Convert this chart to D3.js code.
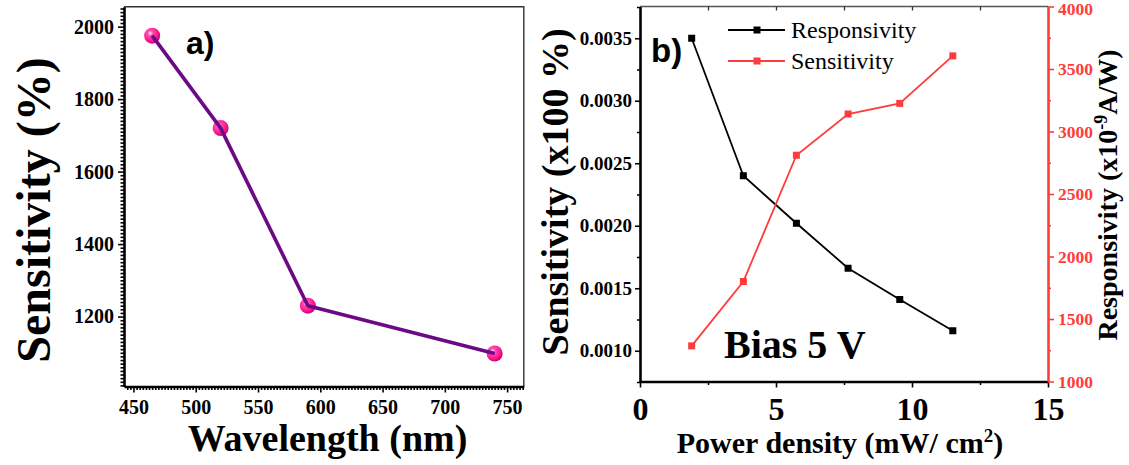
<!DOCTYPE html>
<html><head><meta charset="utf-8">
<script src="https://cdn.jsdelivr.net/npm/d3@7"></script>
<style>
body{margin:0;background:#fff;}
svg{display:block;}
</style>
</head><body>
<svg id="c" width="1129" height="465"></svg>
<script>
// ---- Data ----
const wavelength = [465, 520, 590, 740];
const sensitivityA = [1975, 1720, 1230, 1098];
const powerDensity = [1.9, 3.8, 5.75, 7.65, 9.55, 11.5];
const responsivityB = [0.0035, 0.0024, 0.00202, 0.00166, 0.00141, 0.00116];
const sensitivityB = [1285, 1800, 2810, 3140, 3225, 3605];
const aXTicks = [450, 500, 550, 600, 650, 700, 750];
const aYTicks = [1200, 1400, 1600, 1800, 2000];
const bXTicks = [0, 5, 10, 15];
const bXMinor = [2.5, 7.5, 12.5];
const bYLeftTicks = [0.0010, 0.0015, 0.0020, 0.0025, 0.0030, 0.0035];
const bYRightTicks = [1000, 1500, 2000, 2500, 3000, 3500, 4000];
const legendLabels = ["Responsivity", "Sensitivity"];

const SERIF = '"Liberation Serif", "Times New Roman", serif';
const SANS = '"Liberation Sans", Arial, sans-serif';
const svg = d3.select("#c");
svg.append("rect").attr("width",1129).attr("height",465).attr("fill","#fff");

const defs = svg.append("defs");
const g = defs.append("radialGradient").attr("id","ball").attr("cx","38%").attr("cy","35%").attr("r","65%");
g.append("stop").attr("offset","0%").attr("stop-color","#fff0f8");
g.append("stop").attr("offset","25%").attr("stop-color","#ff4fb4");
g.append("stop").attr("offset","70%").attr("stop-color","#ff1a8c");
g.append("stop").attr("offset","100%").attr("stop-color","#d0006e");

function txt(sel, fs, family, weight){
  return sel.style("font-family", family||SERIF).style("font-size", fs+"px").style("font-weight", weight||"bold");
}
function styleAxis(sel, fs, color){
  txt(sel.selectAll("text"), fs).attr("fill",color||"#000");
  sel.selectAll("line").attr("stroke",color||"#000").attr("stroke-width",1.6);
  sel.select(".domain").attr("stroke",color||"#000").attr("stroke-width",2.6);
}

// ================= Panel a =================
const aL=124, aR=523.8, aT=6.7, aB=386.5;
const xA = d3.scaleLinear().domain([442.4, 763.4]).range([aL, aR]);
const yA = d3.scaleLinear().domain([1007, 2055]).range([aB, aT]);

svg.append("path").attr("d",`M${aL},${aT}H${aR}V${aB}`).attr("fill","none").attr("stroke","#333").attr("stroke-width",1.4);

const aYMinor = d3.range(1010, 2055, 10).filter(v=>v%200!==0);
const aXMinor = d3.range(445, 763, 2.5).filter(v=>v%50!==0);
svg.append("g").attr("transform",`translate(${aL},0)`)
  .call(d3.axisLeft(yA).tickValues(aYMinor).tickSize(3.5).tickSizeOuter(0).tickFormat(""))
  .call(s=>{s.selectAll("line").attr("stroke","#000").attr("stroke-width",1.6); s.select(".domain").remove();});
svg.append("g").attr("transform",`translate(0,${aB})`)
  .call(d3.axisBottom(xA).tickValues(aXMinor).tickSize(3.5).tickSizeOuter(0).tickFormat(""))
  .call(s=>{s.selectAll("line").attr("stroke","#000").attr("stroke-width",1.6); s.select(".domain").remove();});

svg.append("g").attr("transform",`translate(${aL},0)`)
  .call(d3.axisLeft(yA).tickValues(aYTicks).tickSize(6).tickSizeOuter(0).tickPadding(4).tickFormat(d3.format("d")))
  .call(s=>styleAxis(s,20));
svg.append("g").attr("transform",`translate(0,${aB})`)
  .call(d3.axisBottom(xA).tickValues(aXTicks).tickSize(6).tickSizeOuter(0).tickPadding(7.5).tickFormat(d3.format("d")))
  .call(s=>styleAxis(s,20));

svg.append("g").selectAll("circle").data(wavelength).join("circle")
  .attr("cx",(d)=>xA(d)).attr("cy",(d,i)=>yA(sensitivityA[i])).attr("r",8).attr("fill","url(#ball)");
svg.append("path").datum(wavelength)
  .attr("d", d3.line().x(d=>xA(d)).y((d,i)=>yA(sensitivityA[i])))
  .attr("fill","none").attr("stroke","#6c0a86").attr("stroke-width",3.6).attr("stroke-linejoin","round");

txt(svg.append("text").attr("x",186).attr("y",54).text("a)"), 32, SANS);

txt(svg.append("text").attr("transform","translate(50,210) rotate(-90)").attr("text-anchor","middle").text("Sensitivity (%)"), 48);
txt(svg.append("text").attr("x",327.5).attr("y",451).attr("text-anchor","middle").text("Wavelength (nm)"), 38);

// ================= Panel b =================
const bL=640, bR=1048, bT=6.5, bB=381.5;
const xB = d3.scaleLinear().domain([0, 15]).range([bL, bR]);
const yL = d3.scaleLinear().domain([0.000754, 0.003754]).range([bB, bT]);
const yR = d3.scaleLinear().domain([1000, 4000]).range([bB, bT]);

svg.append("line").attr("x1",bL).attr("x2",bR).attr("y1",bT).attr("y2",bT).attr("stroke","#555").attr("stroke-width",1.6);
svg.append("g").attr("transform",`translate(0,${bT})`)
  .call(d3.axisTop(xB).tickValues(bXTicks.concat(bXMinor).filter(v=>v>0&&v<15)).tickSize(-4).tickSizeOuter(0).tickFormat(""))
  .call(s=>{s.selectAll("line").attr("stroke","#333").attr("stroke-width",1.3); s.select(".domain").remove();});

const bYLMinor = d3.range(0.00075, 0.00376, 0.00025).filter(v=>Math.abs((v/0.0005)-Math.round(v/0.0005))>0.01);
svg.append("g").attr("transform",`translate(${bL},0)`)
  .call(d3.axisLeft(yL).tickValues(bYLMinor).tickSize(3).tickSizeOuter(0).tickFormat(""))
  .call(s=>{s.selectAll("line").attr("stroke","#000").attr("stroke-width",1.5); s.select(".domain").remove();});
svg.append("g").attr("transform",`translate(0,${bB})`)
  .call(d3.axisBottom(xB).tickValues(bXMinor).tickSize(3.5).tickSizeOuter(0).tickFormat(""))
  .call(s=>{s.selectAll("line").attr("stroke","#000").attr("stroke-width",1.5); s.select(".domain").remove();});
const bYRMinor = [1250,1750,2250,2750,3250,3750];
svg.append("g").attr("transform",`translate(${bR},0)`)
  .call(d3.axisRight(yR).tickValues(bYRMinor).tickSize(3).tickSizeOuter(0).tickFormat(""))
  .call(s=>{s.selectAll("line").attr("stroke","#ff3c3c").attr("stroke-width",1.5); s.select(".domain").remove();});

svg.append("g").attr("transform",`translate(${bL},0)`)
  .call(d3.axisLeft(yL).tickValues(bYLeftTicks).tickSize(5).tickSizeOuter(0).tickPadding(3).tickFormat(d3.format(".4f")))
  .call(s=>styleAxis(s,19));
svg.append("g").attr("transform",`translate(0,${bB})`)
  .call(d3.axisBottom(xB).tickValues(bXTicks).tickSize(6).tickSizeOuter(0).tickPadding(10).tickFormat(d3.format("d")))
  .call(s=>styleAxis(s,32));
svg.append("g").attr("transform",`translate(${bR},0)`)
  .call(d3.axisRight(yR).tickValues(bYRightTicks).tickSize(6).tickSizeOuter(0).tickPadding(4).tickFormat(d3.format("d")))
  .call(s=>styleAxis(s,17.5,"#ff3c3c"))
  .call(s=>s.selectAll("text").filter(d=>d===4000).attr("dy","0.45em"));

svg.append("path").datum(powerDensity)
  .attr("d", d3.line().x(d=>xB(d)).y((d,i)=>yL(responsivityB[i])))
  .attr("fill","none").attr("stroke","#000").attr("stroke-width",1.8);
svg.append("g").selectAll("rect").data(powerDensity).join("rect")
  .attr("x",d=>xB(d)-3.5).attr("y",(d,i)=>yL(responsivityB[i])-3.5).attr("width",7).attr("height",7).attr("fill","#000");
svg.append("path").datum(powerDensity)
  .attr("d", d3.line().x(d=>xB(d)).y((d,i)=>yR(sensitivityB[i])))
  .attr("fill","none").attr("stroke","#ff3c3c").attr("stroke-width",1.8);
svg.append("g").selectAll("rect").data(powerDensity).join("rect")
  .attr("x",d=>xB(d)-3.5).attr("y",(d,i)=>yR(sensitivityB[i])-3.5).attr("width",7).attr("height",7).attr("fill","#ff3c3c");

const legColors = ["#000","#ff3c3c"];
legendLabels.forEach((lab,i)=>{
  const y = 30 + i*31;
  svg.append("line").attr("x1",728).attr("x2",785).attr("y1",y).attr("y2",y).attr("stroke",legColors[i]).attr("stroke-width",1.8);
  svg.append("rect").attr("x",753.5).attr("y",y-3.5).attr("width",7).attr("height",7).attr("fill",legColors[i]);
  txt(svg.append("text").attr("x",791).attr("y",y+8).text(lab), 24, SERIF, "normal");
});

txt(svg.append("text").attr("x",651).attr("y",62).text("b)"), 33, SANS);
txt(svg.append("text").attr("x",724).attr("y",358).text("Bias 5 V"), 40);

txt(svg.append("text").attr("transform","translate(568,192) rotate(-90)").attr("text-anchor","middle").text("Sensitivity (x100 %)"), 38);

const px = txt(svg.append("text").attr("x",840).attr("y",453).attr("text-anchor","middle"), 30);
px.append("tspan").text("Power density (mW/ cm");
px.append("tspan").attr("dy",-11).style("font-size","19px").text("2");
px.append("tspan").attr("dy",11).text(")");

const rt = txt(svg.append("text").attr("transform","translate(1117,195) rotate(-90)").attr("text-anchor","middle"), 28);
rt.append("tspan").text("Responsivity (x10");
rt.append("tspan").attr("dy",-10).style("font-size","18px").text("-9");
rt.append("tspan").attr("dy",10).text("A/W)");
</script>
</body></html>
